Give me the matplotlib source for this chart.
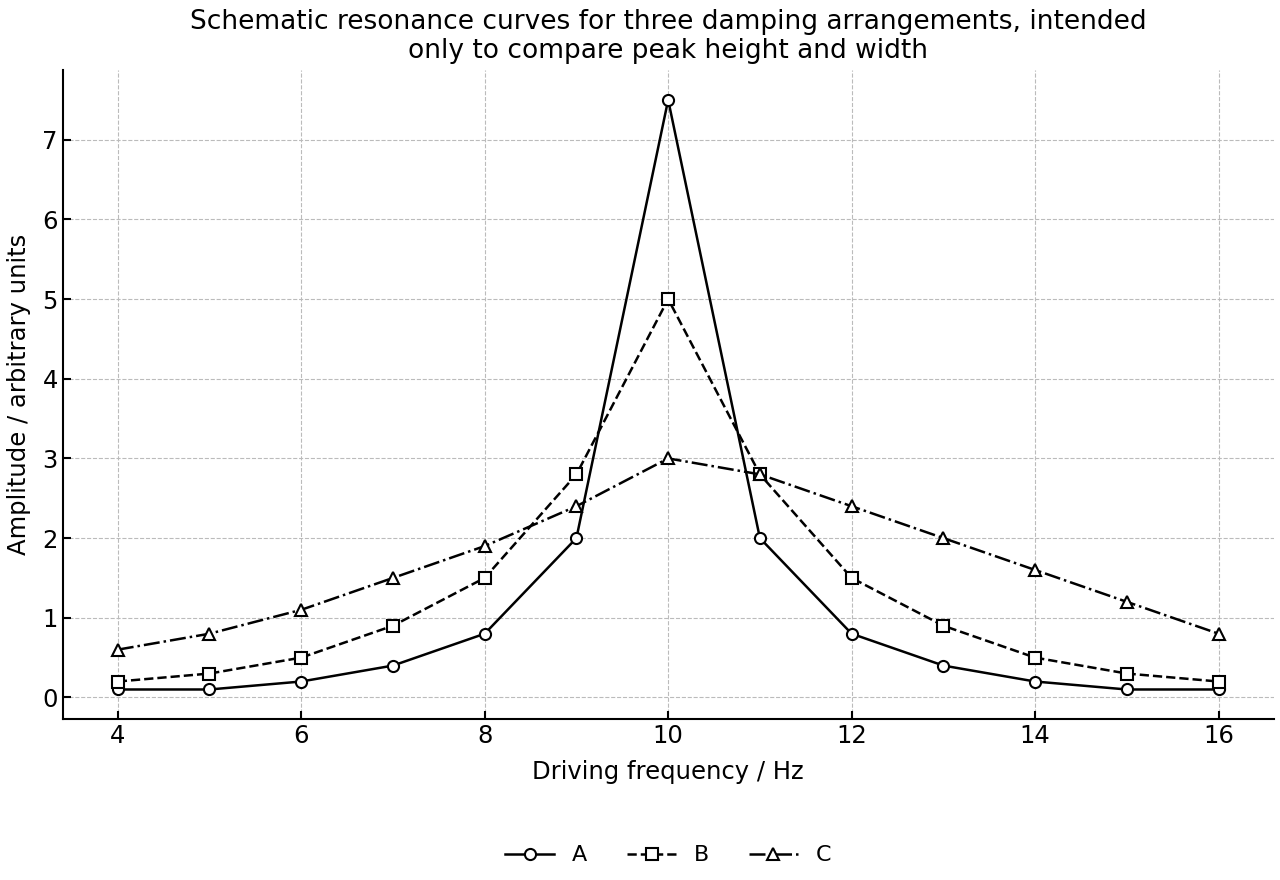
import matplotlib
matplotlib.use('Agg')
import matplotlib.pyplot as plt

# Driving frequency and amplitude for the three damping arrangements
freq = [4, 5, 6, 7, 8, 9, 10, 11, 12, 13, 14, 15, 16]
amp_a = [0.1, 0.1, 0.2, 0.4, 0.8, 2.0, 7.5, 2.0, 0.8, 0.4, 0.2, 0.1, 0.1]
amp_b = [0.2, 0.3, 0.5, 0.9, 1.5, 2.8, 5.0, 2.8, 1.5, 0.9, 0.5, 0.3, 0.2]
amp_c = [0.6, 0.8, 1.1, 1.5, 1.9, 2.4, 3.0, 2.8, 2.4, 2.0, 1.6, 1.2, 0.8]

fig, ax = plt.subplots(figsize=(12.8, 8.8), dpi=100)
fig.subplots_adjust(left=0.049, right=0.995, top=0.92, bottom=0.183)

style = dict(color='black', linewidth=1.8, markersize=8,
             markerfacecolor='white', markeredgecolor='black', markeredgewidth=1.5)
ax.plot(freq, amp_a, marker='o', linestyle='-', label='A', **style)
ax.plot(freq, amp_b, marker='s', linestyle='--', label='B', **style)
ax.plot(freq, amp_c, marker='^', linestyle='-.', label='C', **style)

ax.set_title('Schematic resonance curves for three damping arrangements, intended\n'
             'only to compare peak height and width', fontsize=19, linespacing=1.15, pad=9)
ax.set_xlabel('Driving frequency / Hz', fontsize=17.5, labelpad=9)
ax.set_ylabel('Amplitude / arbitrary units', fontsize=17.5, labelpad=8)
ax.set_xticks([4, 6, 8, 10, 12, 14, 16])
ax.tick_params(direction='in', labelsize=17.5, width=1.5, length=6)
ax.grid(True, linestyle='--', color='#bbbbbb', linewidth=0.8)
ax.spines['top'].set_visible(False)
ax.spines['right'].set_visible(False)
ax.spines['left'].set_linewidth(1.5)
ax.spines['bottom'].set_linewidth(1.5)

fig.legend(loc='center', ncol=3, frameon=False, fontsize=16,
           bbox_to_anchor=(0.522, 0.028), handlelength=2.2, columnspacing=1.8)

fig.savefig('out.png')
